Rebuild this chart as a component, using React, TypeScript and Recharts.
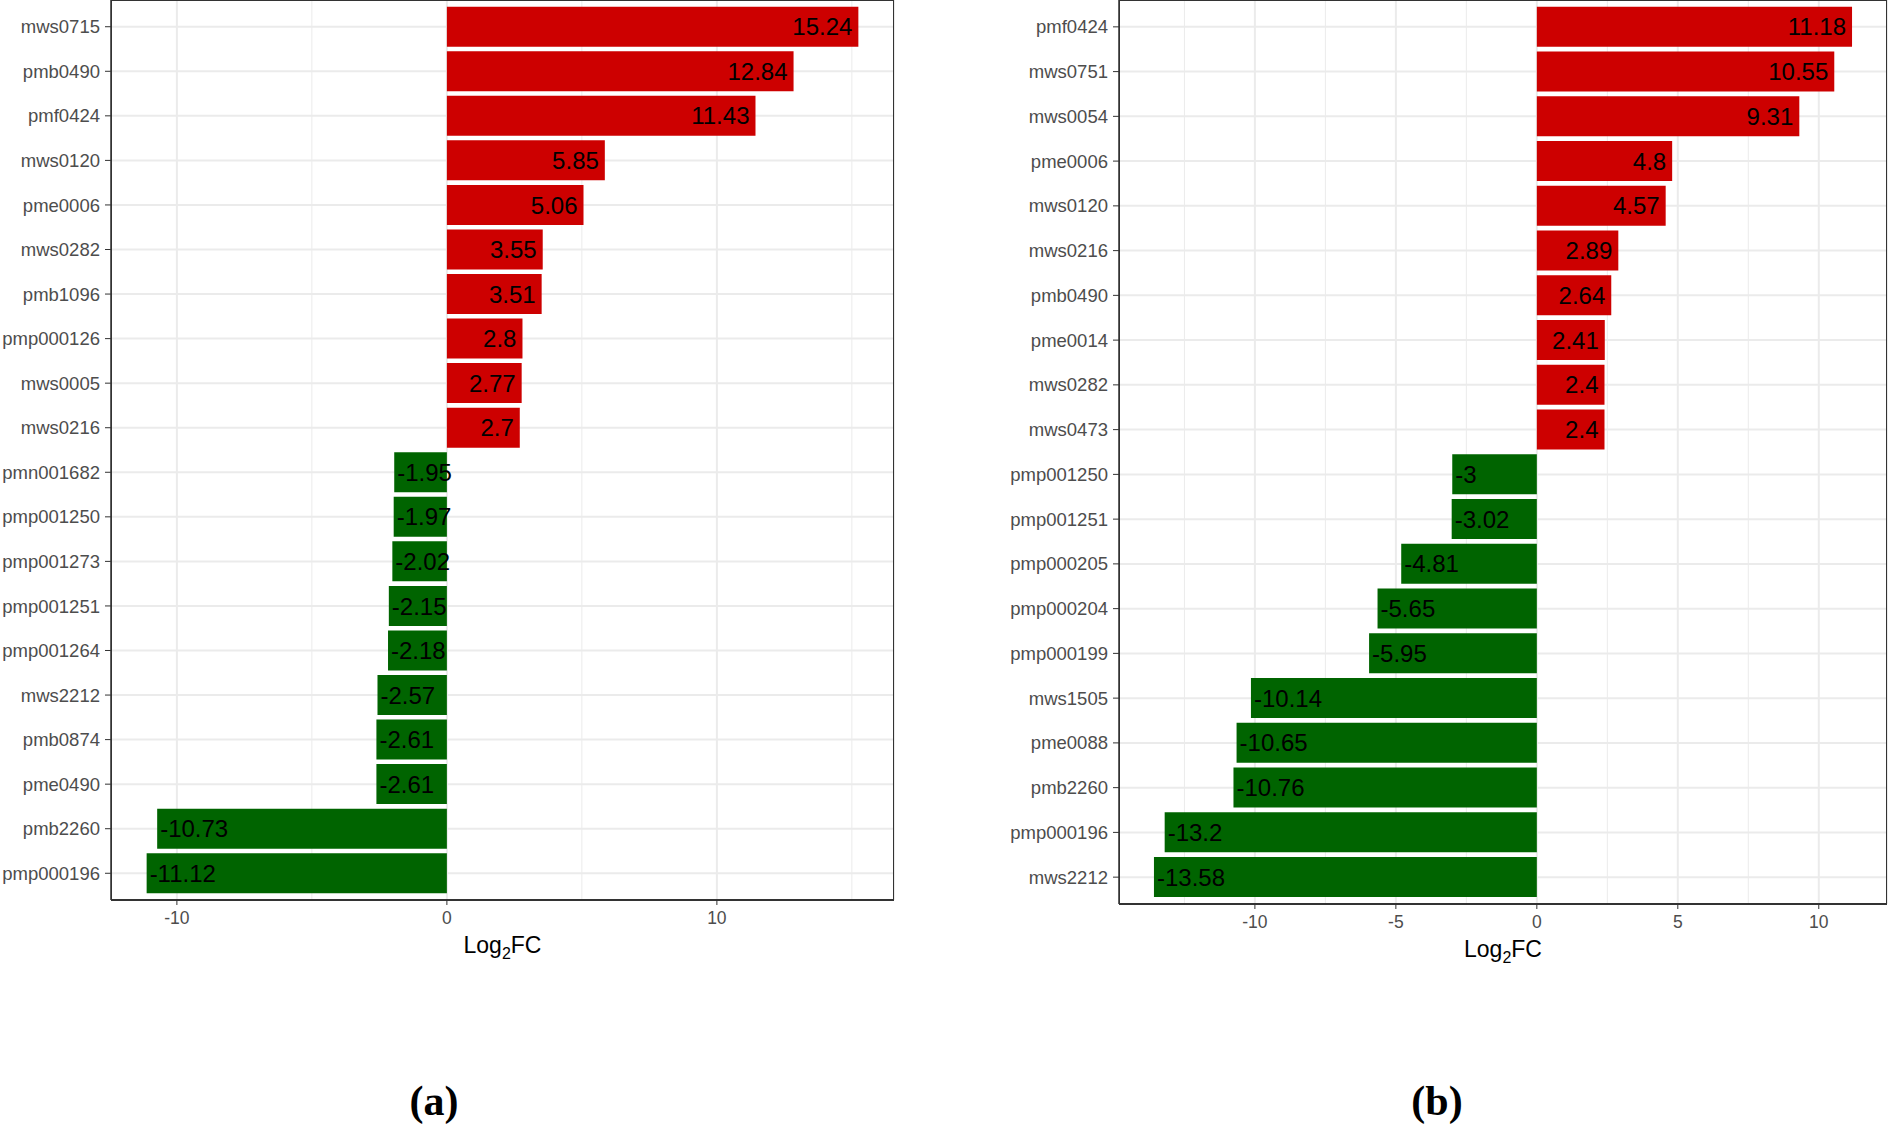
import { Bar, BarChart, CartesianGrid, Cell, LabelList, XAxis, YAxis } from "recharts";

const RED = "#CD0000";
const GREEN = "#006400";
const GRID = "#EBEBEB";
const INK = "#333333";
const FONT = "'Liberation Sans', Arial, sans-serif";

// panel (a)
const GENES_A = [
  "mws0715", "pmb0490", "pmf0424", "mws0120", "pme0006", "mws0282", "pmb1096", "pmp000126", "mws0005", "mws0216",
  "pmn001682", "pmp001250", "pmp001273", "pmp001251", "pmp001264", "mws2212", "pmb0874", "pme0490", "pmb2260", "pmp000196",
];
const LOGFC_A = [
  15.24, 12.84, 11.43, 5.85, 5.06, 3.55, 3.51, 2.8, 2.77, 2.7,
  -1.95, -1.97, -2.02, -2.15, -2.18, -2.57, -2.61, -2.61, -10.73, -11.12,
];
const DOMAIN_A = [-12.44, 16.56];
const TICKS_A = [-10, 0, 10];
const MINOR_A = [-5, 5, 15];

// panel (b)
const GENES_B = [
  "pmf0424", "mws0751", "mws0054", "pme0006", "mws0120", "mws0216", "pmb0490", "pme0014", "mws0282", "mws0473",
  "pmp001250", "pmp001251", "pmp000205", "pmp000204", "pmp000199", "mws1505", "pme0088", "pmb2260", "pmp000196", "mws2212",
];
const LOGFC_B = [
  11.18, 10.55, 9.31, 4.8, 4.57, 2.89, 2.64, 2.41, 2.4, 2.4,
  -3, -3.02, -4.81, -5.65, -5.95, -10.14, -10.65, -10.76, -13.2, -13.58,
];
const DOMAIN_B = [-14.82, 12.42];
const TICKS_B = [-10, -5, 0, 5, 10];
const MINOR_B = [-12.5, -7.5, -2.5, 2.5, 7.5];

const valueLabel = (props: any) => {
  const { x, y, width, height, value } = props;
  const x0 = Number(x);
  const w = Number(width);
  const pos = Number(value) >= 0;
  const end = pos ? Math.max(x0, x0 + w) : Math.min(x0, x0 + w);
  return (
    <text
      x={pos ? end - 6 : end + 3}
      y={Number(y) + Number(height) / 2}
      dy="0.36em"
      textAnchor={pos ? "end" : "start"}
      fontSize={24}
      fontFamily={FONT}
      fill="#000"
    >
      {value}
    </text>
  );
};

const axisTitle = (props: any) => {
  const vb = props.viewBox || {};
  return (
    <text x={vb.x + vb.width / 2} y={vb.y + 53} textAnchor="middle" fontSize={23} fontFamily={FONT} fill="#000">
      Log
      <tspan fontSize={16} dy={6}>2</tspan>
      <tspan dy={-6}>FC</tspan>
    </text>
  );
};

type PanelProps = {
  genes: string[];
  values: number[];
  domain: number[];
  ticks: number[];
  minor: number[];
  left: number;
  width: number;
  plotHeight: number;
  yWidth: number;
  marginRight: number;
};

function Panel({ genes, values, domain, ticks, minor, left, width, plotHeight, yWidth, marginRight }: PanelProps) {
  const rows = genes.map((g, i) => ({ gene: g, fc: values[i] }));
  const pad = (plotHeight / 20.2) * 0.1;
  const height = plotHeight + 75;
  return (
    <div style={{ position: "absolute", left, top: 0, width, height }}>
      <BarChart
        width={width}
        height={height}
        data={rows}
        layout="vertical"
        barCategoryGap="5%"
        margin={{ top: 0, right: marginRight, bottom: 0, left: 0 }}
      >
        <XAxis xAxisId="minor" type="number" domain={domain} ticks={minor} hide allowDataOverflow />
        <CartesianGrid xAxisId="minor" horizontal={false} stroke={GRID} strokeWidth={1} />
        <CartesianGrid stroke={GRID} strokeWidth={2} />
        <XAxis
          type="number"
          dataKey="fc"
          domain={domain}
          ticks={ticks}
          allowDataOverflow
          height={75}
          tickSize={5}
          tickMargin={7}
          tick={{ fontSize: 17.5, fill: "#4D4D4D", fontFamily: FONT }}
          tickLine={{ stroke: INK }}
          axisLine={{ stroke: INK, strokeWidth: 2 }}
          label={axisTitle}
        />
        <YAxis
          type="category"
          dataKey="gene"
          width={yWidth}
          padding={{ top: pad, bottom: pad }}
          interval={0}
          tickSize={6}
          tickMargin={5}
          tick={{ fontSize: 18.5, fill: "#4D4D4D", fontFamily: FONT }}
          tickLine={{ stroke: INK }}
          axisLine={{ stroke: INK, strokeWidth: 1.5 }}
        />
        <Bar dataKey="fc" isAnimationActive={false}>
          {rows.map((r, i) => (
            <Cell key={`${r.gene}-${i}`} fill={r.fc >= 0 ? RED : GREEN} />
          ))}
          <LabelList dataKey="fc" content={valueLabel} />
        </Bar>
      </BarChart>
      <div
        style={{
          position: "absolute",
          left: yWidth,
          top: 0,
          width: width - yWidth - marginRight,
          height: plotHeight,
          border: `1px solid ${INK}`,
          boxSizing: "border-box",
          pointerEvents: "none",
        }}
      />
    </div>
  );
}

export default function App() {
  return (
    <div style={{ position: "absolute", left: 0, top: 0, width: 1889, height: 1127, background: "#fff" }}>
      <Panel genes={GENES_A} values={LOGFC_A} domain={DOMAIN_A} ticks={TICKS_A} minor={MINOR_A}
        left={0} width={900} plotHeight={900} yWidth={111} marginRight={6} />
      <Panel genes={GENES_B} values={LOGFC_B} domain={DOMAIN_B} ticks={TICKS_B} minor={MINOR_B}
        left={1000} width={889} plotHeight={904} yWidth={119} marginRight={2} />
      <div style={{ position: "absolute", left: 384, top: 1076, width: 100, textAlign: "center",
        fontFamily: "'Liberation Serif', 'Times New Roman', serif", fontWeight: "bold", fontSize: 42, lineHeight: "50px" }}>
        (a)
      </div>
      <div style={{ position: "absolute", left: 1387, top: 1076, width: 100, textAlign: "center",
        fontFamily: "'Liberation Serif', 'Times New Roman', serif", fontWeight: "bold", fontSize: 42, lineHeight: "50px" }}>
        (b)
      </div>
    </div>
  );
}
